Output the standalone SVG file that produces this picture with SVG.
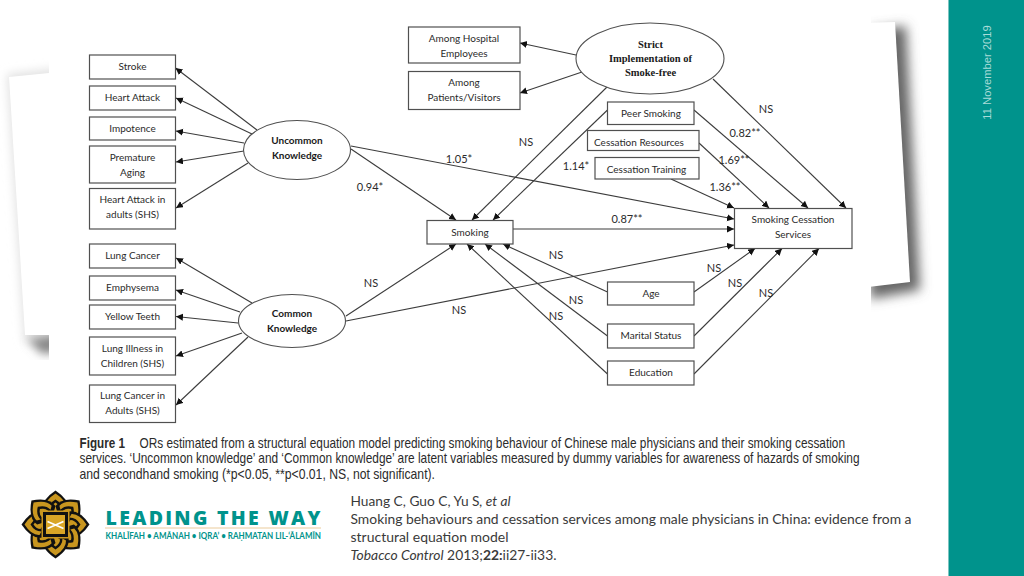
<svg xmlns="http://www.w3.org/2000/svg" width="1024" height="576" viewBox="0 0 1024 576">
<style>
.b{fill:#fff;stroke:#505050;stroke-width:1.2}
.e{fill:#fff;stroke:#505050;stroke-width:1.1}
.t{font-family:Lato,"Liberation Sans",sans-serif;font-size:10px;fill:#2b2b2b;text-anchor:middle}
.tb{font-weight:700;fill:#1a1a1a}
.ts{font-family:"Liberation Serif",serif;font-size:10.5px;font-weight:700;fill:#1a1a1a;text-anchor:middle}
.l{font-family:Lato,"Liberation Sans",sans-serif;font-size:11px;fill:#2b2b2b;text-anchor:middle}
.c line{stroke:#3c3c3c;stroke-width:1.1;marker-end:url(#a)}
.cap{font-family:"Liberation Sans",sans-serif;font-size:14.5px;fill:#2b2b2b}
.cit{font-family:Lato,"Liberation Sans",sans-serif;font-size:14px;fill:#3a3a3a}
</style>
<defs>
<marker id="a" markerUnits="userSpaceOnUse" markerWidth="8" markerHeight="8" refX="7" refY="3.5" orient="auto"><path d="M0 0L7 3.5L0 7z" fill="#111"/></marker>
<filter id="bl" x="-30%" y="-30%" width="160%" height="160%"><feGaussianBlur stdDeviation="6"/></filter>
<filter id="bs" x="-30%" y="-30%" width="160%" height="160%"><feGaussianBlur stdDeviation="5"/></filter>
<g id="pt">
<path d="M-13-13Q-15-24 0-34Q15-24 13-13L0-6z" fill="#111"/>
<path d="M-10.500-16Q-11-24 0-31Q11-24 10.500-16L7-14Q7-21 0-25Q-7-21-7-14z" fill="#c9961f"/>
<path d="M-4.500-15Q-4.500-19 0-22Q4.500-19 4.500-15L0-12z" fill="#c9961f"/>
</g>
</defs>
<rect width="1024" height="576" fill="#fff"/>
<g id="pages">
<path d="M7 74L60 68V100L60 345L24 342z" fill="#e2e2e2" filter="url(#bs)"/>
<path d="M28 340L60 334V352L42 354z" fill="#888" filter="url(#bs)"/>
<path d="M870 30L906 26L920 290L870 299z" fill="#666" filter="url(#bl)"/>
<path d="M9 77L49 73V335H25z" fill="#fff"/>
<path d="M860 23L895 22L910 282L860 288z" fill="#fff"/>
<rect x="49" y="0" width="822" height="440" fill="#fff"/>
</g>
<rect id="sidebar" x="949" y="0" width="75" height="576" fill="#00938c"/>
<rect x="948" y="0" width="1" height="576" fill="#7cc4c0"/>
<text x="991" y="72.500" transform="rotate(-90 991 72.500)" font-family="'Liberation Sans',sans-serif" font-size="11.200" fill="#a9dcd8" text-anchor="middle">11 November 2019</text>
<g id="connectors" class="c">
<line x1="576" y1="55" x2="520" y2="43"/>
<line x1="582" y1="72" x2="520" y2="93"/>
<line x1="607" y1="87" x2="472" y2="220"/>
<line x1="607.500" y1="110" x2="493" y2="220"/>
<line x1="351" y1="146" x2="734" y2="219"/>
<line x1="351" y1="149" x2="456" y2="220"/>
<line x1="513" y1="229" x2="734" y2="229"/>
<line x1="346" y1="316" x2="456" y2="244"/>
<line x1="346" y1="321" x2="734" y2="245"/>
<line x1="607.500" y1="292" x2="503" y2="244"/>
<line x1="607.500" y1="336" x2="485" y2="244"/>
<line x1="607.500" y1="374" x2="467" y2="244"/>
<line x1="694" y1="292" x2="755" y2="248.500"/>
<line x1="694" y1="336" x2="782" y2="248.500"/>
<line x1="694" y1="374" x2="819" y2="248.500"/>
<line x1="671" y1="179" x2="734" y2="208"/>
<line x1="699" y1="143" x2="769" y2="208"/>
<line x1="694" y1="110" x2="808" y2="208"/>
<line x1="713" y1="79" x2="846" y2="208"/>
<line x1="257" y1="130" x2="175.500" y2="68"/>
<line x1="252" y1="134" x2="176" y2="98"/>
<line x1="244" y1="143" x2="176" y2="131"/>
<line x1="244" y1="151" x2="176" y2="162"/>
<line x1="248" y1="163" x2="176" y2="208"/>
<line x1="252" y1="303" x2="176" y2="258"/>
<line x1="240" y1="312" x2="176" y2="290"/>
<line x1="238" y1="323" x2="176" y2="316.500"/>
<line x1="242" y1="333" x2="176" y2="356"/>
<line x1="248" y1="337" x2="176" y2="405"/>
</g>
<g id="n-stroke"><rect class="b" x="89.500" y="55" width="86" height="24"/><text class="t" x="132.500" y="70">Stroke</text></g>
<g id="n-heart"><rect class="b" x="89.500" y="86" width="86" height="24"/><text class="t" x="132.500" y="101">Heart Attack</text></g>
<g id="n-impotence"><rect class="b" x="89.500" y="117" width="86" height="23"/><text class="t" x="132.500" y="132">Impotence</text></g>
<g id="n-premature"><rect class="b" x="89.500" y="146" width="86" height="37"/><text class="t" x="132.500" y="160.500">Premature</text><text class="t" x="132.500" y="175.500">Aging</text></g>
<g id="n-heart-shs"><rect class="b" x="89.500" y="188.500" width="86" height="40.500"/><text class="t" x="132.500" y="203">Heart Attack in</text><text class="t" x="132.500" y="218">adults (SHS)</text></g>
<g id="n-lung"><rect class="b" x="89.500" y="244" width="86" height="24"/><text class="t" x="132.500" y="259">Lung Cancer</text></g>
<g id="n-emphysema"><rect class="b" x="89.500" y="276" width="86" height="24"/><text class="t" x="132.500" y="291">Emphysema</text></g>
<g id="n-teeth"><rect class="b" x="89.500" y="305" width="86" height="24"/><text class="t" x="132.500" y="320">Yellow Teeth</text></g>
<g id="n-illness"><rect class="b" x="89.500" y="337" width="86" height="38"/><text class="t" x="132.500" y="351.500">Lung Illness in</text><text class="t" x="132.500" y="366.500">Children (SHS)</text></g>
<g id="n-lung-shs"><rect class="b" x="89.500" y="385" width="86" height="37.500"/><text class="t" x="132.500" y="399">Lung Cancer in</text><text class="t" x="132.500" y="414">Adults (SHS)</text></g>
<g id="n-uncommon"><ellipse class="e" cx="297" cy="150" rx="53.500" ry="29.500"/><text class="t tb" x="297" y="144">Uncommon</text><text class="t tb" x="297" y="159">Knowledge</text></g>
<g id="n-common"><ellipse class="e" cx="292" cy="321" rx="53.500" ry="26.500"/><text class="t tb" x="292" y="317">Common</text><text class="t tb" x="292" y="332">Knowledge</text></g>
<g id="n-strict"><ellipse class="e" cx="650" cy="58.500" rx="74" ry="35.500"/><text class="ts" x="650.500" y="47.500">Strict</text><text class="ts" x="650.500" y="62">Implementation of</text><text class="ts" x="650.500" y="76">Smoke-free</text></g>
<g id="n-employees"><rect class="b" x="408.500" y="27" width="111.500" height="36"/><text class="t" x="464" y="41.500">Among Hospital</text><text class="t" x="464" y="56.500">Employees</text></g>
<g id="n-patients"><rect class="b" x="408.500" y="71.500" width="111.500" height="38"/><text class="t" x="464" y="86">Among</text><text class="t" x="464" y="101">Patients/Visitors</text></g>
<g id="n-peer"><rect class="b" x="607.500" y="102" width="86.500" height="22.500"/><text class="t" x="651" y="117">Peer Smoking</text></g>
<g id="n-resources"><rect class="b" x="587.500" y="130.500" width="111.500" height="20"/><text class="t" x="639" y="145.500">Cessation Resources</text></g>
<g id="n-training"><rect class="b" x="595" y="157.500" width="104" height="21.500"/><text class="t" x="646.500" y="172.500">Cessation Training</text></g>
<g id="n-smoking"><rect class="b" x="427" y="220.500" width="86" height="23.500"/><text class="t" x="470" y="235.500">Smoking</text></g>
<g id="n-services"><rect class="b" x="734.500" y="208.500" width="117.500" height="40"/><text class="t" x="793" y="223">Smoking Cessation</text><text class="t" x="793" y="238">Services</text></g>
<g id="n-age"><rect class="b" x="607.500" y="282" width="86.500" height="23"/><text class="t" x="651" y="297">Age</text></g>
<g id="n-marital"><rect class="b" x="607.500" y="324" width="86.500" height="24"/><text class="t" x="651" y="339">Marital Status</text></g>
<g id="n-education"><rect class="b" x="607.500" y="361" width="86.500" height="24"/><text class="t" x="651" y="376">Education</text></g>
<g id="labels">
<text class="l" x="459" y="163">1.05*</text>
<text class="l" x="370" y="191">0.94*</text>
<text class="l" x="371" y="287">NS</text>
<text class="l" x="526" y="146">NS</text>
<text class="l" x="576" y="170">1.14*</text>
<text class="l" x="766" y="113">NS</text>
<text class="l" x="745" y="137">0.82**</text>
<text class="l" x="734" y="164">1.69**</text>
<text class="l" x="725" y="191">1.36**</text>
<text class="l" x="627" y="223">0.87**</text>
<text class="l" x="556" y="259">NS</text>
<text class="l" x="714" y="272">NS</text>
<text class="l" x="735" y="287">NS</text>
<text class="l" x="766" y="297">NS</text>
<text class="l" x="576" y="304">NS</text>
<text class="l" x="556" y="320">NS</text>
<text class="l" x="459" y="314">NS</text>
</g>
<g id="caption">
<text class="cap" x="79.500" y="448" font-weight="700" textLength="45.500" lengthAdjust="spacingAndGlyphs">Figure 1</text>
<text class="cap" x="139.500" y="448" textLength="705.500" lengthAdjust="spacingAndGlyphs">ORs estimated from a structural equation model predicting smoking behaviour of Chinese male physicians and their smoking cessation</text>
<text class="cap" x="79.500" y="463" textLength="780" lengthAdjust="spacingAndGlyphs">services. ‘Uncommon knowledge’ and ‘Common knowledge’ are latent variables measured by dummy variables for awareness of hazards of smoking</text>
<text class="cap" x="79.500" y="478.500" textLength="355.500" lengthAdjust="spacingAndGlyphs">and secondhand smoking (*p&lt;0.05, **p&lt;0.01, NS, not significant).</text>
</g>
<g id="logo">
<g transform="translate(55.500 524.500)">
<use href="#pt"/><use href="#pt" transform="rotate(45)"/><use href="#pt" transform="rotate(90)"/><use href="#pt" transform="rotate(135)"/><use href="#pt" transform="rotate(180)"/><use href="#pt" transform="rotate(225)"/><use href="#pt" transform="rotate(270)"/><use href="#pt" transform="rotate(315)"/>
<rect x="-14" y="-14" width="28" height="28" fill="#c9961f"/>
<rect x="-11" y="-11" width="22" height="22" fill="#d9a526" stroke="#111" stroke-width="3"/>
<path d="M-8-3L8 4M8-3L-8 4" stroke="#fff" stroke-width="1.800" fill="none"/>
</g>
<text x="105.500" y="524.700" font-family="'Open Sans','Liberation Sans',sans-serif" font-weight="800" font-size="19.500" fill="#00938c" textLength="215" lengthAdjust="spacing">LEADING THE WAY</text>
<line x1="105" y1="528" x2="321" y2="528" stroke="#eacb9b" stroke-width="1"/>
<text x="105.500" y="539" font-family="Lato,'Liberation Sans',sans-serif" font-weight="700" font-size="9.500" fill="#00938c" textLength="215.500" lengthAdjust="spacingAndGlyphs">KHALĪFAH • AMĀNAH • IQRA’ • RAḤMATAN LIL-‘ĀLAMĪN</text>
</g>
<g id="citation">
<text class="cit" x="350.500" y="505.700" textLength="160" lengthAdjust="spacingAndGlyphs">Huang C, Guo C, Yu S<tspan font-style="italic">, et al</tspan></text>
<text class="cit" x="350.500" y="523.500" textLength="561" lengthAdjust="spacingAndGlyphs">Smoking behaviours and cessation services among male physicians in China: evidence from a</text>
<text class="cit" x="350.500" y="541.700" textLength="158" lengthAdjust="spacingAndGlyphs">structural equation model</text>
<text class="cit" x="350.500" y="559.500" textLength="206" lengthAdjust="spacingAndGlyphs"><tspan font-style="italic">Tobacco Control</tspan> 2013;<tspan font-weight="700">22:</tspan>ii27-ii33.</text>
</g>
</svg>
